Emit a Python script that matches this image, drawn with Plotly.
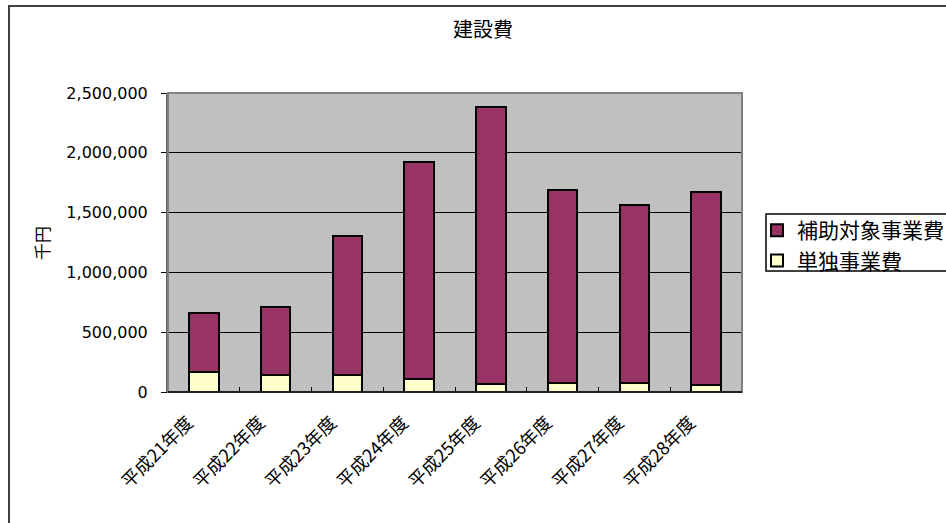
import plotly.graph_objects as go

categories = ["平成21年度", "平成22年度", "平成23年度", "平成24年度",
              "平成25年度", "平成26年度", "平成27年度", "平成28年度"]
single_cost = [167000, 142000, 142000, 112000, 70000, 79000, 79000, 56000]
subsidy_cost = [497000, 572000, 1164000, 1808000, 2311000, 1607000, 1487000, 1616000]
y_ticks = [0, 500000, 1000000, 1500000, 2000000, 2500000]
y_tick_labels = ["0", "500,000", "1,000,000", "1,500,000", "2,000,000", "2,500,000"]

FONT = "Noto Sans CJK JP"

fig = go.Figure()
fig.add_trace(go.Bar(
    x=categories, y=single_cost, name="単独事業費",
    marker=dict(color="#FFFFCC", line=dict(color="#000000", width=2)),
))
fig.add_trace(go.Bar(
    x=categories, y=subsidy_cost, name="補助対象事業費",
    marker=dict(color="#993366", line=dict(color="#000000", width=2)),
))

W, H = 946, 523
L, R, T, B = 168, 742, 93, 392
PW, PH = R - L, B - T


def px(x):
    return (x - L) / PW


def py(y):
    return (B - y) / PH


fig.update_layout(
    width=W, height=H,
    barmode="stack", bargap=0.59,
    paper_bgcolor="white", plot_bgcolor="#C0C0C0",
    margin=dict(l=L, r=W - R, t=T, b=H - B, autoexpand=False),
    font=dict(family=FONT, size=16, color="#000000"),
    title=dict(text="建設費", x=483 / W, xanchor="center", y=1 - 30 / H, yanchor="middle",
               font=dict(family=FONT, size=20, color="#000000")),
    showlegend=True,
    legend=dict(
        x=px(757), xanchor="left", y=py(210), yanchor="top",
        traceorder="reversed", bgcolor="rgba(0,0,0,0)", borderwidth=0,
        font=dict(family=FONT, size=21, color="#000000"),
        itemwidth=30, tracegroupgap=0,
    ),
    xaxis=dict(
        tickangle=-45, showline=True, linecolor="#000000", linewidth=1,
        ticks="inside", tickson="boundaries", ticklen=5, tickcolor="#000000",
        ticklabelshift=-16, ticklabelstandoff=12,
        tickfont=dict(family=FONT, size=18), mirror=False,
    ),
    yaxis=dict(
        range=[0, 2500000], tickvals=y_ticks, ticktext=y_tick_labels,
        showgrid=True, gridcolor="#000000", gridwidth=1,
        showline=True, linecolor="#606060", linewidth=2, mirror=False,
        ticks="outside", ticklen=5, tickcolor="#000000",
        ticklabelstandoff=10,
        tickfont=dict(family="DejaVu Sans", size=16), zeroline=False,
    ),
)

# plot area frame
fig.add_shape(type="rect", xref="paper", yref="paper", x0=0, x1=1, y0=0, y1=1,
              line=dict(color="#808080", width=2), fillcolor="rgba(0,0,0,0)", layer="above")
# bottom axis line in black
fig.add_shape(type="line", xref="paper", yref="paper", x0=0, x1=1, y0=0, y1=0,
              line=dict(color="#000000", width=1.5), layer="above")

# y-axis title
fig.add_annotation(text="千円", xref="paper", yref="paper", x=px(41), y=py(243),
                   xanchor="center", yanchor="middle", textangle=-90, showarrow=False,
                   font=dict(family=FONT, size=17, color="#000000"))

# legend frame
fig.add_shape(type="rect", xref="paper", yref="paper",
              x0=px(766), x1=px(990), y0=py(271), y1=py(214),
              line=dict(color="#000000", width=1.5), fillcolor="rgba(0,0,0,0)", layer="above")

# outer chart border
fig.add_shape(type="rect", xref="paper", yref="paper",
              x0=px(9), x1=px(990), y0=py(560), y1=py(6),
              line=dict(color="#404040", width=2), fillcolor="rgba(0,0,0,0)", layer="below")

fig.write_html("out.html", config={"displayModeBar": False},
               post_script="document.body.style.margin='0';document.body.style.overflow='hidden';")
